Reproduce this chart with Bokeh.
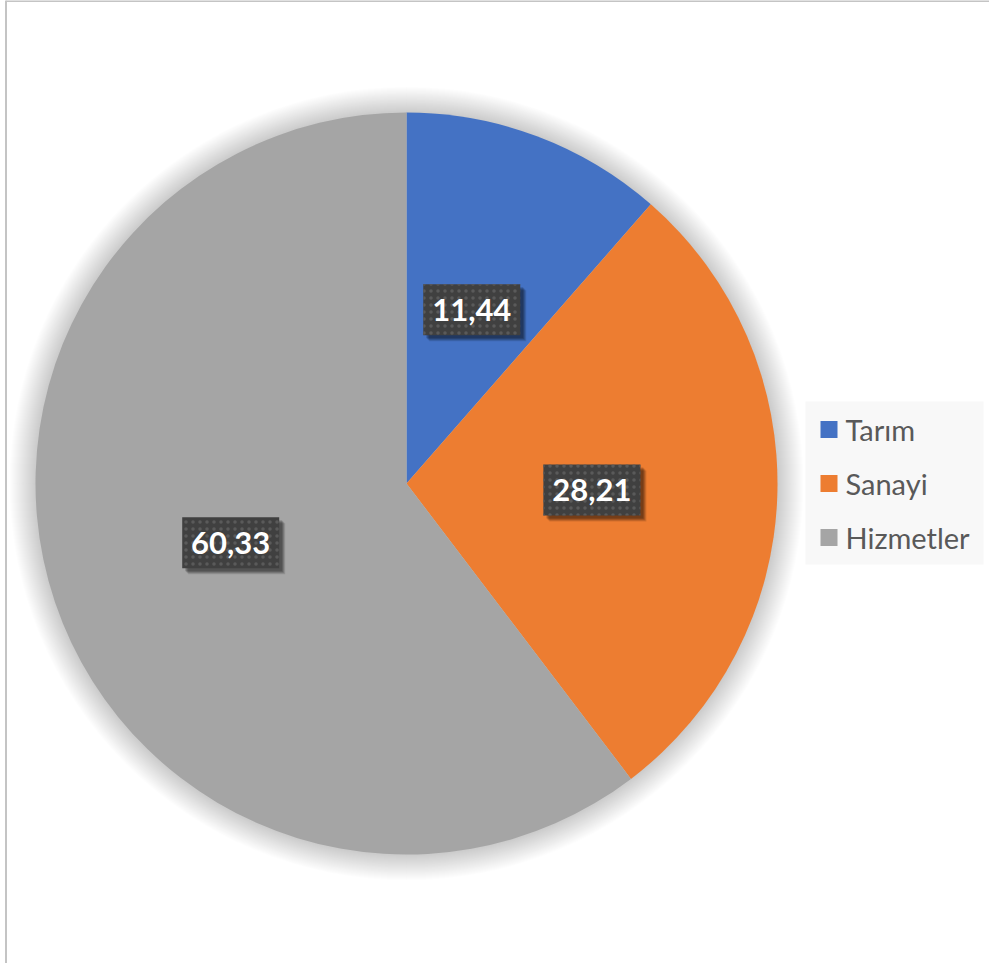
import numpy as np
import pandas as pd
from bokeh.plotting import figure
from bokeh.models import Range1d, ColumnDataSource
from bokeh.embed import file_html
from bokeh.resources import INLINE
from bokeh.core.properties import value

categories = ["Tarım", "Sanayi", "Hizmetler"]
shares = [11.44, 28.21, 60.33]
labels = ["11,44", "28,21", "60,33"]
colors = ["#4472C4", "#ED7D31", "#A5A5A5"]

W, H = 989, 963
CX, CY, R = 406, 480, 371

df = pd.DataFrame({"cat": categories, "share": shares, "label": labels, "color": colors})
frac = df["share"] / df["share"].sum()
cum_end = frac.cumsum()
cum_start = cum_end - frac
df["start"] = np.pi / 2 - 2 * np.pi * cum_end
df["end"] = np.pi / 2 - 2 * np.pi * cum_start
mid = 2 * np.pi * (cum_start + cum_end) / 2
df["lx"] = CX + 0.5 * R * np.sin(mid)
df["ly"] = CY + 0.5 * R * np.cos(mid)
df["x"] = CX
df["y"] = CY
df["lgx"] = 828.5
df["lgy"] = [534, 480, 426]
df["lgtx"] = 845
src = ColumnDataSource(df)

p = figure(width=W, height=H, x_range=Range1d(0, W), y_range=Range1d(0, H),
           output_backend="svg", toolbar_location=None, min_border=0,
           x_axis_location=None, y_axis_location=None)
p.grid.visible = False
p.outline_line_color = None
p.background_fill_color = "white"
p.border_fill_color = "white"

# chart border (left and top)
p.line([5.5, 5.5], [0, H], line_color="#c4c4c4", line_width=2)
p.line([5, W], [H - 0.5, H - 0.5], line_color="#c4c4c4", line_width=2)

# soft shadow around pie
for k in range(26, 0, -1):
    p.circle(x=[CX], y=[CY], radius=R + k, fill_color="black", fill_alpha=0.006, line_color=None)

p.wedge(x="x", y="y", radius=R, start_angle="start", end_angle="end", direction="anticlock",
        fill_color="color", line_color=None, source=src)

# label shadows
for dx, dy, a in [(6, -6, 0.12), (5, -5, 0.15), (4, -4, 0.18), (3, -3, 0.18)]:
    p.rect(x=df["lx"] + dx, y=df["ly"] + dy, width=97, height=51,
           fill_color="black", fill_alpha=a, line_color=None)
p.rect(x="lx", y="ly", width=97, height=51, fill_color="#404040", line_color=None,
       hatch_pattern="dot", hatch_color="#5a5a5a", hatch_scale=7, hatch_weight=2, source=src)
p.text(x="lx", y="ly", text="label", text_font=value("Lato"), text_font_style="bold",
       text_font_size="31px", text_color="white", text_align="center",
       text_baseline="middle", source=src)

# legend
p.rect(x=[894], y=[480.5], width=178, height=163, fill_color="#f8f8f8", line_color=None)
p.rect(x="lgx", y="lgy", width=17, height=17, fill_color="color", line_color=None, source=src)
p.text(x="lgtx", y="lgy", text="cat", text_font=value("Lato"), text_font_size="29px",
       text_color="#595959", text_align="left", text_baseline="middle", source=src)

open("out.html", "w").write(file_html(p, INLINE))
